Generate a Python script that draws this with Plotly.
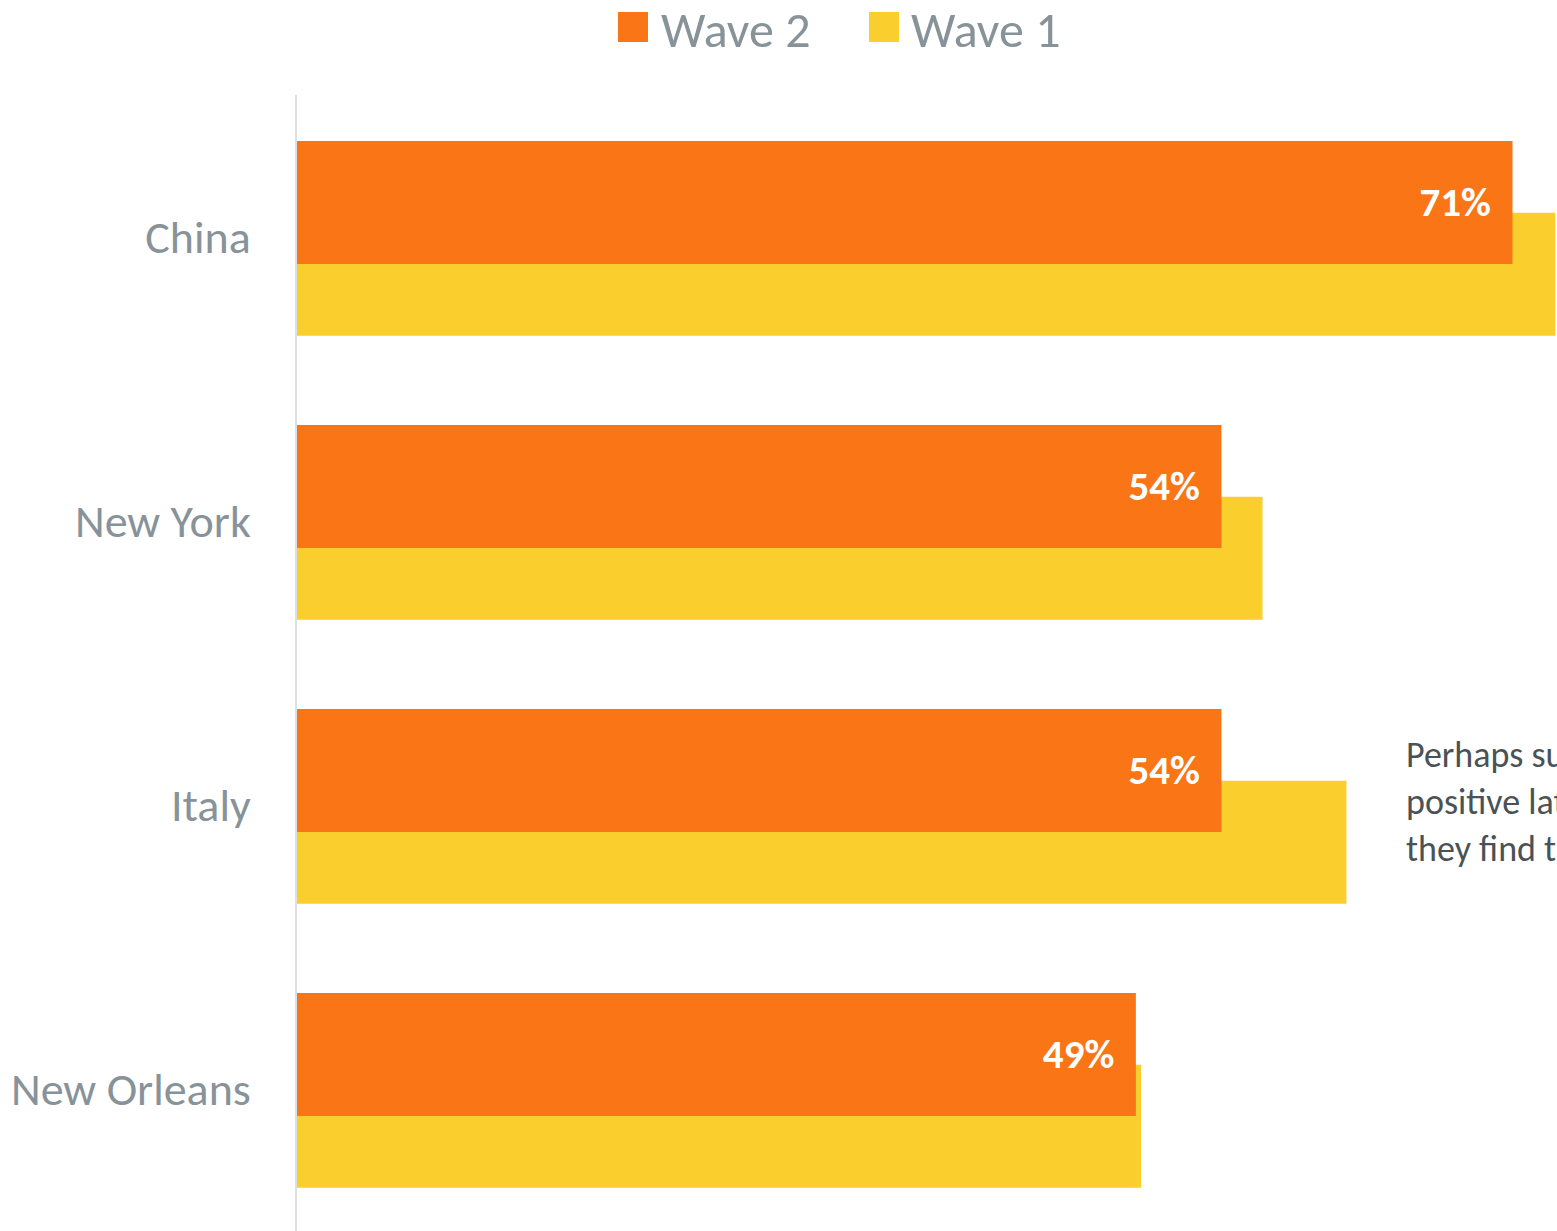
import plotly.graph_objects as go

# Share of respondents by location, two survey waves
locations = ["China", "New York", "Italy", "New Orleans"]
wave2 = [71, 54, 54, 49]
wave1 = [73.5, 56.4, 61.3, 49.3]
legend_labels = ["Wave 2", "Wave 1"]

ORANGE = "#FA7516"
YELLOW = "#F9CE2D"
LABEL_GRAY = "#879399"
NOTE_GRAY = "#4A5256"
FONT = "Carlito, Calibri, Lato, sans-serif"

W, H = 1557, 1231
M_L, M_T = 297, 95
PLOT_W, PLOT_H = W - M_L, H - M_T


def px_x(p):
    return (p - M_L) / PLOT_W


def px_y(p):
    return (H - p) / PLOT_H


fig = go.Figure()

# Wave 1 drawn first so the Wave 2 bars sit on top of it
fig.add_trace(go.Bar(
    name=legend_labels[1], y=locations, x=wave1, orientation="h",
    offset=-0.085, width=0.433,
    marker=dict(color=YELLOW, line=dict(width=0)),
    hoverinfo="skip", showlegend=False,
))
fig.add_trace(go.Bar(
    name=legend_labels[0], y=locations, x=wave2, orientation="h",
    offset=-0.338, width=0.433,
    marker=dict(color=ORANGE, line=dict(width=0)),
    texttemplate="%{x}%\u00a0\u00a0", textposition="inside",
    insidetextanchor="end", constraintext="none",
    textfont=dict(family=FONT, size=41, color="white", weight="bold"),
    hoverinfo="skip", showlegend=False,
))

# Legend: coloured squares with series names
shapes = []
annotations = []
for (sx, tx, color, label) in [(618, 659, ORANGE, legend_labels[0]),
                               (869, 909, YELLOW, legend_labels[1])]:
    shapes.append(dict(type="rect", xref="paper", yref="paper",
                       x0=px_x(sx), x1=px_x(sx + 30),
                       y0=px_y(42), y1=px_y(12),
                       fillcolor=color, line=dict(width=0)))
    annotations.append(dict(text=label, xref="paper", yref="paper",
                            x=px_x(tx), y=px_y(29), xanchor="left",
                            yanchor="middle", showarrow=False,
                            font=dict(family=FONT, size=50, color=LABEL_GRAY)))

# Side note
annotations.append(dict(
    text="Perhaps surprisingly, sentiment<br>positive later, as<br>they find their footing",
    xref="paper", yref="paper", x=px_x(1404), y=px_y(802),
    xanchor="left", yanchor="middle", align="left", showarrow=False,
    font=dict(family=FONT, size=36, color=NOTE_GRAY),
))

fig.update_layout(
    width=W, height=H,
    margin=dict(l=M_L, r=0, t=M_T, b=0, pad=0),
    paper_bgcolor="white", plot_bgcolor="white",
    barmode="overlay",
    showlegend=False,
    shapes=shapes,
    annotations=annotations,
    xaxis=dict(range=[0, 73.6], visible=False, fixedrange=True),
    yaxis=dict(
        categoryorder="array", categoryarray=locations,
        range=[3.5, -0.5],
        showline=True, linecolor="#DCE0E0", linewidth=2,
        showgrid=False, zeroline=False, ticks="",
        ticklabelstandoff=35,
        tickfont=dict(family=FONT, size=46, color=LABEL_GRAY),
        fixedrange=True,
    ),
)

fig.write_html("out.html")
